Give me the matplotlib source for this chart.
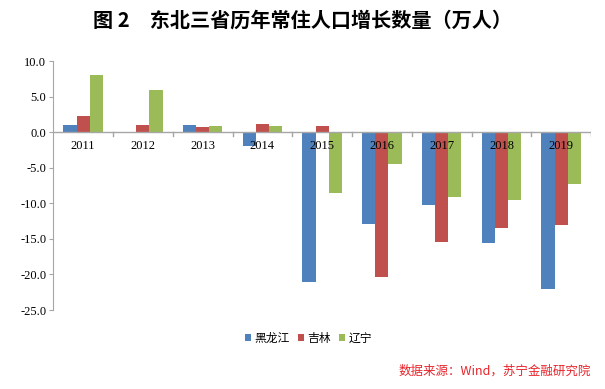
import numpy as np
import matplotlib.pyplot as plt

plt.rcParams['font.family'] = ['Noto Sans CJK SC', 'DejaVu Sans']

years = ['2011', '2012', '2013', '2014', '2015', '2016', '2017', '2018', '2019']
heilongjiang = [1.0, 0.0, 1.0, -2.0, -21.1, -12.9, -10.3, -15.6, -22.1]
jilin = [2.3, 1.0, 0.8, 1.1, 0.9, -20.3, -15.5, -13.4, -13.1]
liaoning = [8.0, 6.0, 0.9, 0.9, -8.6, -4.4, -9.1, -9.6, -7.3]
names = ['黑龙江', '吉林', '辽宁']
colors = ['#4F81BD', '#C0504D', '#9BBB59']

fig = plt.figure(figsize=(6.05, 3.89), dpi=100)
ax = fig.add_axes([0.088, 0.203, 0.889, 0.640])

x = np.arange(len(years))
w = 0.22
for i, (vals, name, c) in enumerate(zip([heilongjiang, jilin, liaoning], names, colors)):
    ax.bar(x + (i - 1) * w, vals, w, color=c, label=name, zorder=2)

ax.set_xlim(-0.5, len(years) - 0.5)
ax.set_ylim(-25, 10)
ax.set_yticks(np.arange(-25, 10.1, 5))
ax.set_yticklabels(['%.1f' % v for v in np.arange(-25, 10.1, 5)],
                   family='Liberation Serif', fontsize=9)

for s in ['top', 'right', 'bottom']:
    ax.spines[s].set_visible(False)
ax.spines['left'].set_color('#A6A6A6')
ax.tick_params(axis='y', length=3, color='#A6A6A6', pad=2)

# category axis at zero
ax.axhline(0, color='#A6A6A6', lw=1, zorder=3)
ax.set_xticks([])
for xi in np.arange(0.5, len(years), 1):
    ax.plot([xi, xi], [0, -0.6], color='#A6A6A6', lw=1, zorder=3)
for xi, yr in zip(x, years):
    ax.text(xi, -1.1, yr, ha='center', va='top', family='Liberation Serif',
            fontsize=9, zorder=4)

fig.text(0.5, 0.948, '图 2　东北三省历年常住人口增长数量（万人）', ha='center', va='center',
         fontsize=14.5, fontweight='bold')

fig.legend(loc='center', bbox_to_anchor=(0.51, 0.13), ncol=3, frameon=False,
           fontsize=8.5, handlelength=0.5, handleheight=0.5, handletextpad=0.3,
           columnspacing=0.7)

fig.text(0.977, 0.045, '数据来源：Wind，苏宁金融研究院', ha='right', va='center',
         color='#E8232A', fontsize=9, style='italic')

fig.savefig('out.png', dpi=100)
